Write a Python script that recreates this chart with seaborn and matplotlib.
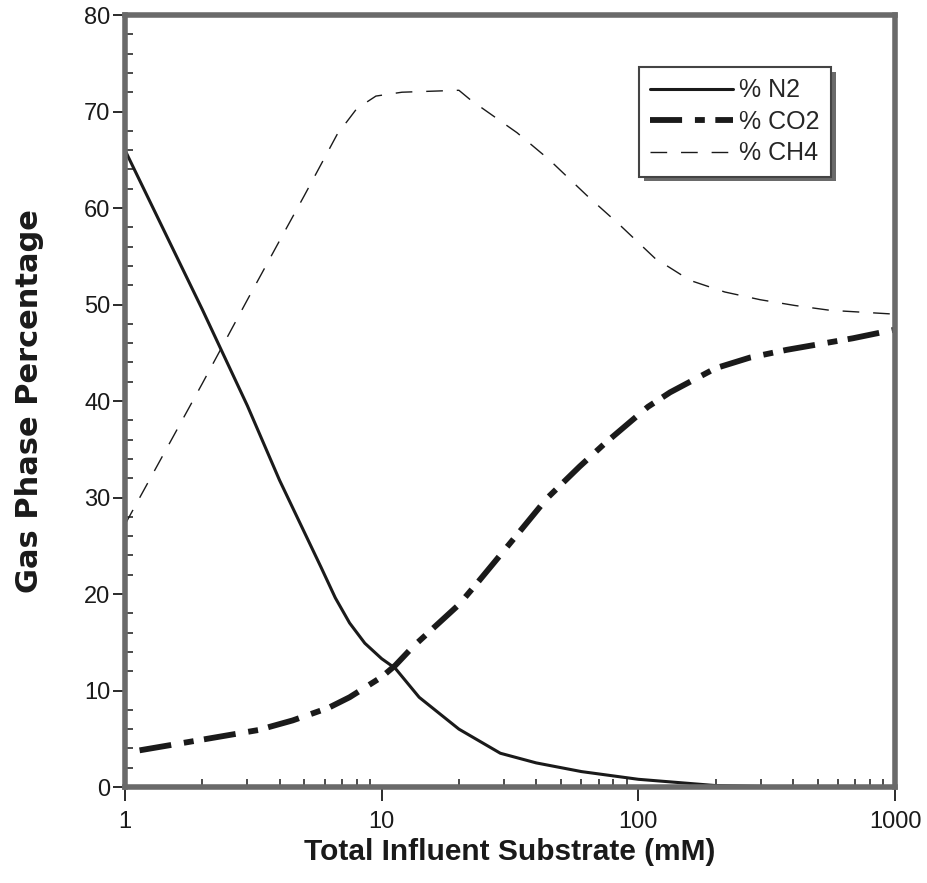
import numpy as np
import pandas as pd
import matplotlib
matplotlib.use("Agg")
import matplotlib.pyplot as plt
import seaborn as sns

# values (x in mM, y in %)
n2_x = [1, 2, 3, 4, 5.8, 6.6, 7.5, 8.6, 10, 11.3, 14, 20, 29, 40, 60, 100, 200, 400, 1000]
n2_y = [66, 49.5, 39.5, 31.8, 22.8, 19.6, 17.0, 14.9, 13.3, 12.3, 9.3, 6.0, 3.5, 2.5, 1.6,
        0.8, 0.15, 0.0, 0.0]

co2_x = [1.14, 1.8, 3.3, 4.5, 6.2, 7.5, 10, 11.3, 13.2, 20, 23.5, 33.6, 44, 59, 74, 109, 133,
         200, 272, 378, 685, 1000]
co2_y = [3.8, 4.7, 5.9, 6.9, 8.2, 9.3, 11.4, 12.6, 14.5, 18.9, 21.1, 26.1, 29.9, 33.2, 35.6,
         39.4, 40.9, 43.4, 44.5, 45.3, 46.5, 47.4]

ch4_x = [1, 2, 3, 4, 5, 6.7, 8, 9.5, 12, 20, 22.2, 33.7, 45, 63, 85, 116, 159, 217, 298,
         407, 558, 1000]
ch4_y = [27.2, 41.8, 50.5, 56.6, 61.3, 67.6, 70.3, 71.6, 72.0, 72.2, 71.2, 67.8, 65.0, 61.3,
         58.2, 54.8, 52.5, 51.3, 50.5, 49.9, 49.4, 49.0]

df = pd.concat([
    pd.DataFrame({"x": n2_x, "y": n2_y, "gas": "% N2"}),
    pd.DataFrame({"x": co2_x, "y": co2_y, "gas": "% CO2"}),
    pd.DataFrame({"x": ch4_x, "y": ch4_y, "gas": "% CH4"}),
])

sns.set_style("ticks")
plt.rcParams['font.family'] = ['Liberation Sans', 'DejaVu Sans']

fig = plt.figure(figsize=(9.27, 8.83), dpi=100)
ax = fig.add_axes([0.1348, 0.1087, 0.8307, 0.8743])

ink = "#1a1a1a"
styles = {
    "% N2": dict(lw=2.2, ls="-"),
    "% CO2": dict(lw=4.2, ls=(0, (5.5, 2.2, 1.7, 1.8))),
    "% CH4": dict(lw=1.0, ls=(0, (12, 10))),
}
for gas, st in styles.items():
    sub = df[df["gas"] == gas]
    sns.lineplot(data=sub, x="x", y="y", ax=ax, color=ink, label=gas,
                 linewidth=st["lw"], linestyle=st["ls"], estimator=None, sort=False)

ax.set_xscale("log")
ax.set_xlim(1, 1000)
ax.set_ylim(0, 80)
ax.set_yticks(np.arange(0, 81, 10))
ax.set_yticks(np.arange(0, 81, 2), minor=True)
ax.set_xticks([1, 10, 100, 1000])
ax.set_xticklabels(["1", "10", "100", "1000"])

ax.tick_params(which="major", direction="out", width=1.3, labelsize=17, colors=ink)
ax.tick_params(axis="y", which="major", length=8.5, pad=2)
ax.tick_params(axis="x", which="major", length=10, pad=7)
ax.tick_params(which="minor", direction="in", length=6, width=1.1, colors=ink)

for sp in ax.spines.values():
    sp.set_linewidth(4)
    sp.set_color("#6a6a6a")

ax.set_xlabel("Total Influent Substrate (mM)", fontsize=21.5, fontweight="bold", color=ink, labelpad=4)
# the y title in the scan is noticeably wider than the x title, so a wider face is used
ax.set_ylabel("Gas Phase Percentage", fontsize=22, fontweight="bold", color=ink, labelpad=29,
              family=["DejaVu Sans"])

leg = ax.legend(loc="upper left", bbox_to_anchor=(0.6675, 0.9326), borderaxespad=0,
                fontsize=18, frameon=True, fancybox=False,
                shadow={"ox": 3.5, "oy": -3.5, "facecolor": "#6a6a6a", "edgecolor": "none", "alpha": 1},
                handlelength=3.3, borderpad=0.45, labelspacing=0.3, handletextpad=0.25)
leg.get_frame().set_edgecolor("#444444")
leg.get_frame().set_linewidth(1.5)
leg.get_frame().set_alpha(1)

fig.savefig("out.png", dpi=100)
